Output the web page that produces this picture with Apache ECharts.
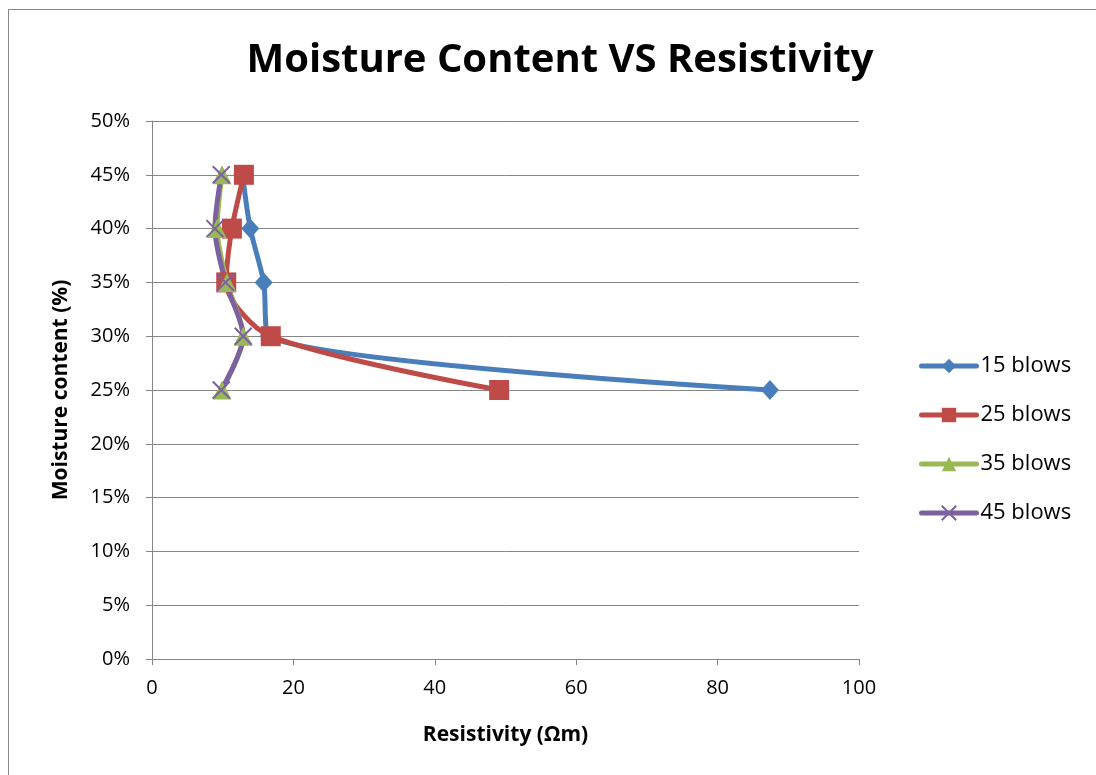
<!DOCTYPE html>
<html>
<head>
<meta charset="utf-8">
<script src="https://cdn.jsdelivr.net/npm/echarts@6/dist/echarts.min.js"></script>
<style>
  html, body { margin: 0; padding: 0; background: #fff; }
  #frame { position: absolute; left: 8px; top: 9px; width: 1100px; height: 770px; border: 1px solid #888; box-sizing: border-box; }
  #chart { width: 1096px; height: 775px; position: absolute; left: 0; top: 0; }
</style>
</head>
<body>
<div id="frame"></div>
<div id="chart"></div>
<script>
// Moisture content (%) at each test point
const moisture = [25, 30, 35, 40, 45];

// Resistivity (Ωm) for each compaction effort
const blows15 = [87.4, 16.5, 15.8, 13.9, 12.8];
const blows25 = [49.1, 16.8, 10.5, 11.3, 13.0];
const blows35 = [9.9, 12.9, 10.6, 9.2, 9.9];
const blows45 = [9.8, 12.9, 10.4, 8.9, 9.8];

const seriesNames = ['15 blows', '25 blows', '35 blows', '45 blows'];

const font = 'Open Sans, Liberation Sans, sans-serif';
const crossPath = 'path://M0,0 L10,10 M10,0 L0,10';

function pairs(xs) {
  return xs.map((x, i) => [x, moisture[i]]);
}

const chart = echarts.init(document.getElementById('chart'), null, { renderer: 'canvas' });

const mk = (name, data, color, symbol, size, extra) => Object.assign({
  name: name,
  type: 'line',
  data: pairs(data),
  smooth: 0.28,
  symbol: symbol,
  symbolSize: size,
  lineStyle: { color: color, width: 5, cap: 'round' },
  itemStyle: { color: color },
  z: 2
}, extra || {});

chart.setOption({
  animation: false,
  textStyle: { fontFamily: font },
  title: {
    text: 'Moisture Content VS Resistivity',
    left: 555, top: 36, textAlign: 'center',
    textStyle: { fontSize: 40, fontWeight: 'bold', color: '#000', fontFamily: font }
  },
  legend: {
    orient: 'vertical',
    left: 914, top: 350,
    itemGap: 27,
    itemWidth: 55, itemHeight: 18,
    data: seriesNames,
    lineStyle: { width: 5, cap: 'round' },
    textStyle: { fontSize: 22, color: '#000', fontFamily: font, padding: [0, 0, 0, -1] }
  },
  grid: { left: 152, right: 237, top: 121, bottom: 116, containLabel: false },
  xAxis: {
    type: 'value', min: 0, max: 100, interval: 20,
    name: 'Resistivity (Ωm)', nameLocation: 'middle', nameGap: 66,
    nameTextStyle: { fontSize: 21, fontWeight: 'bold', color: '#000', fontFamily: font },
    axisLine: { show: true, lineStyle: { color: '#868686', width: 1 } },
    axisTick: { show: true, length: 6, lineStyle: { color: '#868686' } },
    axisLabel: { fontSize: 20, color: '#000', margin: 19, fontFamily: font },
    splitLine: { show: false }
  },
  yAxis: {
    type: 'value', min: 0, max: 50, interval: 5,
    name: 'Moisture content (%)', nameLocation: 'middle', nameGap: 80, nameRotate: 90,
    nameTextStyle: { fontSize: 21, fontWeight: 'bold', color: '#000', fontFamily: font },
    axisLine: { show: true, lineStyle: { color: '#868686', width: 1 } },
    axisTick: { show: true, length: 6, lineStyle: { color: '#868686' } },
    axisLabel: { fontSize: 20, color: '#000', margin: 22, formatter: '{value}%', fontFamily: font },
    splitLine: { show: true, lineStyle: { color: '#868686', width: 1 } }
  },
  series: [
    mk(seriesNames[0], blows15, '#4A7EBB', 'diamond', [18, 20]),
    mk(seriesNames[1], blows25, '#BE4B48', 'rect', 20),
    mk(seriesNames[2], blows35, '#98B954', 'triangle', 19),
    mk(seriesNames[3], blows45, '#7D60A0', crossPath, 17, {
      itemStyle: { color: 'none', borderColor: '#7D60A0', borderWidth: 2 }
    })
  ]
});
</script>
</body>
</html>
